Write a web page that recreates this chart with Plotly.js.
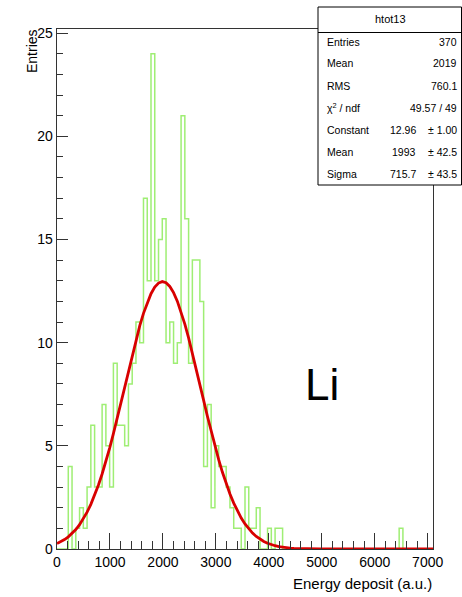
<!DOCTYPE html>
<html>
<head>
<meta charset="utf-8">
<script src="https://cdn.plot.ly/plotly-3.0.1.min.js"></script>
<style>
  html, body { margin: 0; padding: 0; background: #ffffff; }
  #chart { width: 462px; height: 597px; }
</style>
</head>
<body>
<div id="chart"></div>
<script>
// ---- data ----
const histName = 'htot13';
const xMin = 0;
const xMax = 7100;
const binCounts = [
  0, 0, 0, 4, 0, 1, 2, 1, 3, 6,
  3, 3, 7, 5, 3, 9, 6, 6, 5, 8,
  9, 11, 10, 17, 13, 24, 13, 15, 16, 10,
  11, 9, 10, 21, 16, 9, 14, 14, 12, 4,
  7, 2, 5, 4, 4, 3, 2, 1, 1, 0,
  3, 1, 1, 2, 0, 0, 1, 0, 1, 1,
  0, 0, 0, 0, 0, 0, 0, 0, 0, 0,
  0, 0, 0, 0, 0, 0, 0, 0, 0, 0,
  0, 0, 0, 0, 0, 0, 0, 0, 0, 0,
  0, 1, 0, 0, 0, 0, 0, 0, 0, 0
];
const fitConstant = 12.96;
const fitMean = 1993;
const fitSigma = 715.7;
const fitPoints = 100;
const statLabels = ['Entries', 'Mean', 'RMS', '\u03c7<sup>2</sup> / ndf', 'Constant', 'Mean', 'Sigma'];
const statValues = ['370', '2019', '760.1', '49.57 / 49', '12.96', '1993', '715.7'];
const statErrors = ['', '', '', '', '\u00b1 1.00', '\u00b1 42.5', '\u00b1 43.5'];
const xTitle = 'Energy deposit (a.u.)';
const yTitle = 'Entries';
const elementLabel = 'Li';

// ---- derived ----
const nBins = binCounts.length;
const binW = (xMax - xMin) / nBins;
const edges = [];
for (let i = 0; i <= nBins; i++) edges.push(xMin + i * binW);
const stepY = binCounts.concat([binCounts[nBins - 1]]);

const fitX = [], fitY = [];
for (let i = 0; i <= fitPoints; i++) {
  const x = xMin + (xMax - xMin) * i / fitPoints;
  fitX.push(x);
  fitY.push(fitConstant * Math.exp(-0.5 * Math.pow((x - fitMean) / fitSigma, 2)));
}

// ---- geometry (pixels) ----
const W = 462, H = 597;
const L = 57, R = 433, T = 29, B = 549;
const px = x => (x - L) / (R - L);
const py = y => (B - y) / (B - T);
const FONT = 'Liberation Sans, Arial, Helvetica, sans-serif';

const traces = [
  {
    x: edges, y: stepY, type: 'scatter', mode: 'lines',
    line: { shape: 'hv', color: '#9fee74', width: 1.5 },
    hoverinfo: 'skip', showlegend: false
  },
  {
    x: fitX, y: fitY, type: 'scatter', mode: 'lines',
    line: { color: '#d80000', width: 2.8 },
    hoverinfo: 'skip', showlegend: false
  }
];

const rowsY = [41.7, 63.3, 86, 107.8, 130, 152, 174.3];
const annotations = [];
annotations.push({
  xref: 'paper', yref: 'paper', x: px(390), y: py(19), text: histName,
  showarrow: false, xanchor: 'center', yanchor: 'middle',
  font: { family: FONT, size: 11, color: '#000' }
});
statLabels.forEach((lab, i) => {
  annotations.push({
    xref: 'paper', yref: 'paper', x: px(325), y: py(rowsY[i]), text: lab,
    showarrow: false, xanchor: 'left', yanchor: 'middle',
    font: { family: FONT, size: 10.5, color: '#000' }
  });
  const hasErr = statErrors[i] !== '';
  annotations.push({
    xref: 'paper', yref: 'paper', x: px(hasErr ? 418 : 459), y: py(rowsY[i]), text: statValues[i],
    showarrow: false, xanchor: 'right', yanchor: 'middle',
    font: { family: FONT, size: 10.5, color: '#000' }
  });
  if (hasErr) {
    annotations.push({
      xref: 'paper', yref: 'paper', x: px(459), y: py(rowsY[i]), text: statErrors[i],
      showarrow: false, xanchor: 'right', yanchor: 'middle',
      font: { family: FONT, size: 10.5, color: '#000' }
    });
  }
});
annotations.push({
  xref: 'paper', yref: 'paper', x: px(434), y: py(583), text: xTitle,
  showarrow: false, xanchor: 'right', yanchor: 'middle',
  font: { family: FONT, size: 15, color: '#000' }
});
annotations.push({
  xref: 'paper', yref: 'paper', x: px(32), y: py(27), text: yTitle, textangle: -90,
  showarrow: false, xanchor: 'center', yanchor: 'top',
  font: { family: FONT, size: 14, color: '#000' }
});
annotations.push({
  xref: 'paper', yref: 'paper', x: px(322), y: py(384), text: elementLabel,
  showarrow: false, xanchor: 'center', yanchor: 'middle',
  font: { family: FONT, size: 44, color: '#000' }
});

const shapes = [
  { type: 'rect', xref: 'paper', yref: 'paper', x0: px(318), x1: px(461.5), y0: py(185), y1: py(7),
    line: { color: '#000', width: 1 }, fillcolor: '#ffffff', layer: 'above' },
  { type: 'line', xref: 'paper', yref: 'paper', x0: px(318), x1: px(461.5), y0: py(32.5), y1: py(32.5),
    line: { color: '#000', width: 1 }, layer: 'above' }
];

const axisCommon = {
  showgrid: false, zeroline: false, showline: true, mirror: true,
  linecolor: '#333', linewidth: 1.4, ticks: 'inside', tickcolor: '#333', tickwidth: 1,
  tickfont: { family: FONT, size: 14, color: '#000' }, layer: 'above traces'
};

const layout = {
  width: W, height: H,
  margin: { l: L, r: W - R, t: T, b: H - B, pad: 0 },
  paper_bgcolor: '#ffffff', plot_bgcolor: '#ffffff',
  showlegend: false,
  xaxis: Object.assign({}, axisCommon, {
    range: [xMin, xMax], tickmode: 'linear', tick0: 0, dtick: 1000, ticklen: 16,
    minor: { dtick: 200, ticks: 'inside', ticklen: 8, tickcolor: '#333', tickwidth: 1, showgrid: false }
  }),
  yaxis: Object.assign({}, axisCommon, {
    range: [0, 25.2], tickmode: 'linear', tick0: 0, dtick: 5, ticklen: 11,
    minor: { dtick: 1, ticks: 'inside', ticklen: 6, tickcolor: '#333', tickwidth: 1, showgrid: false }
  }),
  annotations: annotations,
  shapes: shapes
};

Plotly.newPlot('chart', traces, layout, { staticPlot: true, displayModeBar: false });
</script>
</body>
</html>
